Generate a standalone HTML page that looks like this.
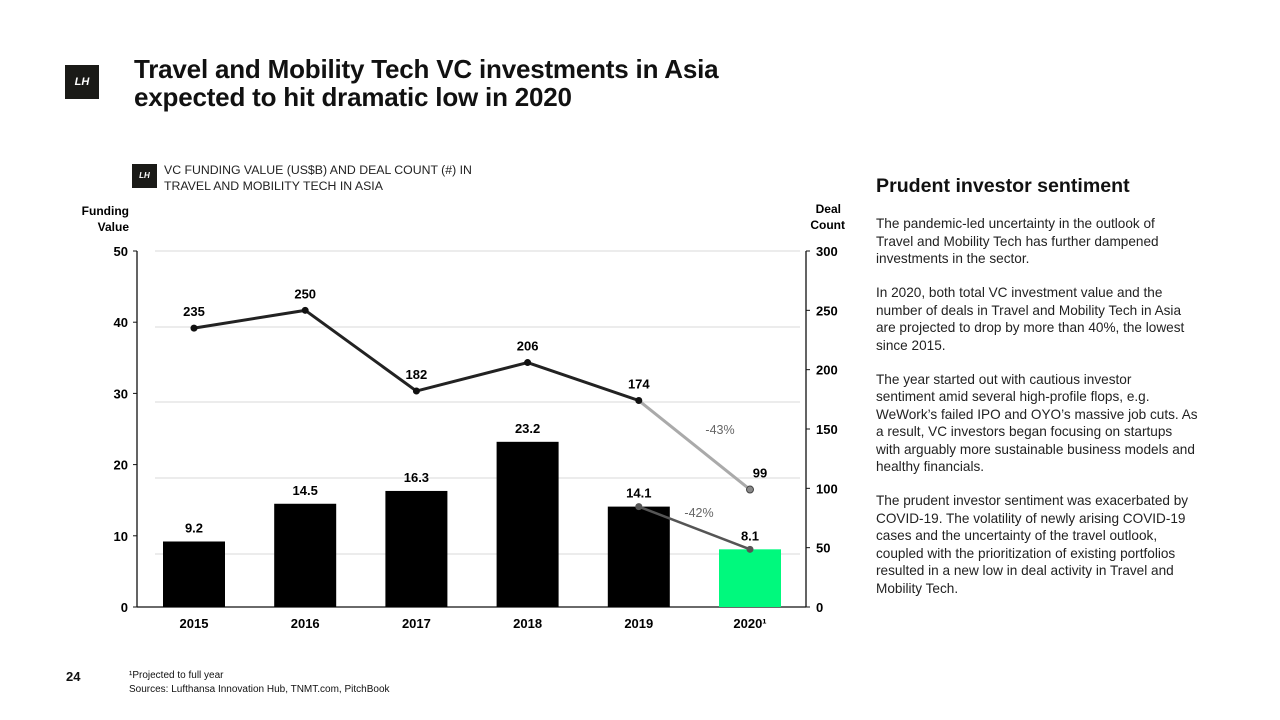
<!DOCTYPE html>
<html><head><meta charset="utf-8"><style>
body{margin:0;width:1280px;height:720px;background:#fff;font-family:"Liberation Sans",Arial,sans-serif;position:relative;overflow:hidden;color:#111}
.abs{position:absolute}
.logo{background:#1a1a17;color:#fff;font-style:italic;font-weight:bold;text-align:center}
p{margin:0 0 16.5px 0;white-space:nowrap}
</style></head><body>
<div class="abs logo" style="left:65px;top:65px;width:34px;height:34px;line-height:34px;font-size:11px">LH</div>
<div class="abs" style="left:134px;top:55px;font-size:26px;font-weight:bold;line-height:28px;letter-spacing:-0.2px">Travel and Mobility Tech VC investments in Asia<br>expected to hit dramatic low in 2020</div>
<div class="abs logo" style="left:132px;top:164px;width:25px;height:24px;line-height:24px;font-size:8px">LH</div>
<div class="abs" style="left:164px;top:162px;font-size:12.3px;line-height:16px;color:#222">VC FUNDING VALUE (US$B) AND DEAL COUNT (#) IN<br>TRAVEL AND MOBILITY TECH IN ASIA</div>
<svg class="abs" style="left:0;top:0" width="1280" height="720" id="chart"></svg>
<div class="abs" style="left:876px;top:175px;font-size:19.6px;font-weight:bold">Prudent investor sentiment</div>
<div class="abs" style="left:876px;top:215px;font-size:13.6px;line-height:17.5px;color:#222">
<p>The pandemic-led uncertainty in the outlook of<br>Travel and Mobility Tech has further dampened<br>investments in the sector.</p>
<p>In 2020, both total VC investment value and the<br>number of deals in Travel and Mobility Tech in Asia<br>are projected to drop by more than 40%, the lowest<br>since 2015.</p>
<p>The year started out with cautious investor<br>sentiment amid several high-profile flops, e.g.<br>WeWork’s failed IPO and OYO’s massive job cuts. As<br>a result, VC investors began focusing on startups<br>with arguably more sustainable business models and<br>healthy financials.</p>
<p>The prudent investor sentiment was exacerbated by<br>COVID-19. The volatility of newly arising COVID-19<br>cases and the uncertainty of the travel outlook,<br>coupled with the prioritization of existing portfolios<br>resulted in a new low in deal activity in Travel and<br>Mobility Tech.</p></div>
<div class="abs" style="left:66px;top:669px;font-size:13px;font-weight:bold">24</div>
<div class="abs" style="left:129px;top:669px;font-size:10px;line-height:14px">¹Projected to full year<br>Sources: Lufthansa Innovation Hub, TNMT.com, PitchBook</div>
<script>
const years=["2015","2016","2017","2018","2019","2020¹"];
const funding=[9.2,14.5,16.3,23.2,14.1,8.1];
const deals=[235,250,182,206,174,99];
const leftTicks=[0,10,20,30,40,50];
const rightTicks=[0,50,100,150,200,250,300];
const ns="http://www.w3.org/2000/svg";
const svg=document.getElementById('chart');
const y0=607,yTop=251,xL=137,xR=806;
const yL=v=>y0-(v/50)*(y0-yTop);
const yR=v=>y0-(v/300)*(y0-yTop);
const xC=i=>194+i*111.2;
function mk(t,a,txt){const e=document.createElementNS(ns,t);for(const k in a)e.setAttribute(k,a[k]);if(txt!=null)e.textContent=txt;svg.appendChild(e);return e;}
[251,327,402,478,554].forEach(y=>{const g=mk('line',{x1:155,x2:800,y1:y,y2:y,stroke:'#e6e6e6','stroke-width':1.5});

});
let a=mk('line',{x1:xL,x2:xL,y1:yTop,y2:y0,stroke:'#111','stroke-width':1.3});


a=mk('line',{x1:xR,x2:xR,y1:yTop,y2:y0,stroke:'#111','stroke-width':1.3});


a=mk('line',{x1:xL,x2:xR,y1:y0,y2:y0,stroke:'#111','stroke-width':1.3});


leftTicks.forEach(v=>{mk('line',{x1:xL-4,x2:xL,y1:yL(v),y2:yL(v),stroke:'#111'});
const t=mk('text',{x:xL-9,y:yL(v)+5,'text-anchor':'end','font-size':13,'font-weight':'bold'},v);

});
rightTicks.forEach(v=>{mk('line',{x1:xR,x2:xR+4,y1:yR(v),y2:yR(v),stroke:'#111'});
const t=mk('text',{x:xR+10,y:yR(v)+5,'font-size':13,'font-weight':'bold'},v);

});
let t=mk('text',{x:129,y:215,'text-anchor':'end','font-size':12,'font-weight':'bold'},'Funding');


mk('text',{x:129,y:231,'text-anchor':'end','font-size':12,'font-weight':'bold'},'Value');
t=mk('text',{x:841,y:213,'text-anchor':'end','font-size':12,'font-weight':'bold'},'Deal');


mk('text',{x:845,y:229,'text-anchor':'end','font-size':12,'font-weight':'bold'},'Count');
funding.forEach((v,i)=>{const b=mk('rect',{x:xC(i)-31,y:yL(v),width:62,height:y0-yL(v),fill:i==5?'#00f97d':'#000'});


const l=mk('text',{x:xC(i),y:yL(v)-9,'text-anchor':'middle','font-size':13,'font-weight':'bold'},v.toFixed(1));


const x=mk('text',{x:xC(i),y:628,'text-anchor':'middle','font-size':13,'font-weight':'bold'},years[i]);

});
let pts=deals.slice(0,5).map((v,i)=>xC(i)+','+yR(v)).join(' ');
let pl=mk('polyline',{points:pts,fill:'none',stroke:'#222','stroke-width':3});


pl=mk('line',{x1:xC(4),y1:yR(deals[4]),x2:xC(5),y2:yR(deals[5]),stroke:'#aaa','stroke-width':3});


pl=mk('line',{x1:xC(4),y1:yL(funding[4]),x2:xC(5),y2:yL(funding[5]),stroke:'#555','stroke-width':2.5});


deals.forEach((v,i)=>{const c=mk('circle',{cx:xC(i),cy:yR(v),r:3.5,fill:i==5?'#888':'#111',stroke:i==5?'#444':'none'});


const l=mk('text',{x:xC(i)+(i==5?10:0),y:yR(v)-12,'text-anchor':'middle','font-size':13,'font-weight':'bold'},v);

});
[4,5].forEach(i=>{const c=mk('circle',{cx:xC(i),cy:yL(funding[i]),r:3.5,fill:'#555'});

});
t=mk('text',{x:720,y:434,'text-anchor':'middle','font-size':12.5,fill:'#666'},'-43%');


t=mk('text',{x:699,y:517,'text-anchor':'middle','font-size':12.5,fill:'#666'},'-42%');


</script>
</body></html>
